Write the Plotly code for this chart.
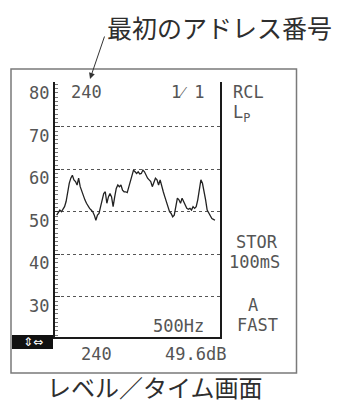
import plotly.graph_objects as go

# Sound level recorded at successive memory addresses (dB)
LEVELS_DB = [
    49.2, 50.0, 50.4, 50.0, 50.6, 51.2, 52.4, 54.7, 56.7, 57.9,
    58.6, 57.5, 57.1, 56.3, 57.9, 55.9, 54.7, 54.0, 52.8, 52.0,
    51.2, 50.8, 50.4, 50.0, 49.2, 48.0, 49.2, 49.6, 51.2, 52.8,
    54.3, 54.7, 52.0, 53.5, 54.3, 53.5, 51.2, 53.5, 55.5, 56.3,
    55.9, 56.3, 55.1, 54.7, 54.7, 54.5, 55.9,
    57.5, 59.0, 59.8, 59.4, 59.0, 59.4, 58.9, 59.0, 59.8, 59.4,
    58.6, 57.9, 57.5, 57.1, 55.9, 56.7, 57.9, 57.5, 56.3, 57.5,
    55.9, 54.7, 53.5, 52.4, 51.2, 50.0, 49.6, 48.8, 49.2, 51.2,
    53.2, 52.8, 52.0, 53.2, 52.4, 51.2, 50.8, 50.6, 50.8, 50.4,
    51.2, 50.8, 51.2, 52.8, 55.9, 57.5, 56.7, 55.1, 52.8, 50.4,
    49.6, 48.8, 48.4, 48.2, 48.0,
]
Y_LABELS = [80, 70, 60, 50, 40, 30]
GRID_LEVELS = [70, 60, 50, 40, 30]
Y_RANGE = [20.6, 80.6]

TITLE_TOP = "最初のアドレス番号"
TITLE_BOTTOM = "レベル／タイム画面"
START_ADDR = "240"
PAGE = "1⁄ 1"
MODE = "RCL"
PARAM = "L<sub>P</sub>"
STORE = "STOR"
INTERVAL = "100mS"
WEIGHT = "A"
SPEED = "FAST"
BAND = "500Hz"
CURSOR_ADDR = "240"
CURSOR_LEVEL = "49.6dB"
ICONS = "⇕⇔"

W, H = 345, 407


def px(x):
    return x / W


def py(y):
    return 1 - y / H


n = len(LEVELS_DB)
xs = list(range(n))
step = (215 - 56.7) / (n - 1)
x_range = [-(56.7 - 55) / step, (n - 1) + (220 - 215) / step]

LCD = "DejaVu Sans Mono"
LCD_COLOR = "#555555"
JP = "Noto Sans CJK JP"
JP_COLOR = "#2e2e2e"

fig = go.Figure()
fig.add_trace(go.Scatter(
    x=xs, y=LEVELS_DB, mode="lines",
    line=dict(color="#222222", width=1.3),
    hoverinfo="skip", showlegend=False,
))

annotations = []


def lcd_text(text, x, y, anchor="left", size=17):
    annotations.append(dict(
        text=text, x=px(x), y=py(y), xref="paper", yref="paper",
        xanchor=anchor, yanchor="middle", showarrow=False,
        font=dict(family=LCD, size=size, color=LCD_COLOR),
    ))


for v in Y_LABELS:
    annotations.append(dict(
        text=str(v), x=px(51), y=v, xref="paper", yref="y",
        xanchor="right", yanchor="middle", yshift=-9, showarrow=False,
        font=dict(family=LCD, size=17, color=LCD_COLOR),
    ))

lcd_text(START_ADDR, 69, 92)
lcd_text(PAGE, 207, 92, anchor="right")
lcd_text(MODE, 231, 92)
lcd_text(PARAM, 231, 113)
lcd_text(STORE, 257, 242, anchor="center")
lcd_text(INTERVAL, 254, 262, anchor="center")
lcd_text(WEIGHT, 253, 305, anchor="center")
lcd_text(SPEED, 257, 325, anchor="center")
lcd_text(BAND, 206, 326, anchor="right")
lcd_text(CURSOR_ADDR, 79, 354)
lcd_text(CURSOR_LEVEL, 163, 354)

annotations.append(dict(
    text=ICONS, x=px(32.5), y=py(342), xref="paper", yref="paper",
    xanchor="center", yanchor="middle", showarrow=False,
    font=dict(family="DejaVu Sans", size=12, color="white"),
))

annotations.append(dict(
    text=TITLE_TOP, x=px(220), y=py(27), xref="paper", yref="paper",
    xanchor="center", yanchor="middle", showarrow=False,
    font=dict(family=JP, size=25, color=JP_COLOR),
))
annotations.append(dict(
    text=TITLE_BOTTOM, x=px(155), y=py(406), xref="paper", yref="paper",
    xanchor="center", yanchor="bottom", showarrow=False,
    font=dict(family=JP, size=24, color=JP_COLOR),
))
# arrow pointing at the first address number
annotations.append(dict(
    text="", x=px(90), y=py(79), xref="paper", yref="paper",
    ax=15, ay=-44, showarrow=True, arrowhead=2, arrowsize=1.2,
    arrowwidth=1, arrowcolor="#333333", standoff=0,
))

shapes = [
    dict(type="rect", xref="paper", yref="paper",
         x0=px(11), x1=px(296.5), y0=py(373), y1=py(69),
         line=dict(color="#7a7a7a", width=1.5)),
    dict(type="rect", xref="paper", yref="paper",
         x0=px(12), x1=px(53), y0=py(349), y1=py(335),
         fillcolor="#111111", line=dict(width=0)),
]

fig.update_layout(
    width=W, height=H, autosize=False,
    margin=dict(l=0, r=0, t=0, b=0),
    paper_bgcolor="white", plot_bgcolor="white",
    annotations=annotations, shapes=shapes,
    xaxis=dict(
        domain=[px(55), px(220)], range=x_range,
        showline=True, linecolor="#1a1a1a", linewidth=2, mirror=False,
        showgrid=False, zeroline=False, showticklabels=False, ticks="",
        fixedrange=True,
    ),
    yaxis=dict(
        domain=[py(336.7), py(81.7)], range=Y_RANGE,
        showline=True, linecolor="#1a1a1a", linewidth=2, mirror=True,
        tickmode="array", tickvals=GRID_LEVELS,
        ticks="inside", ticklen=5, tickcolor="#333333",
        showticklabels=False,
        showgrid=True, gridcolor="#555555", griddash="dot", gridwidth=1,
        zeroline=False, fixedrange=True,
        minor=dict(tickmode="linear", tick0=0, dtick=1, ticks="inside",
                   ticklen=3, tickcolor="#777777", showgrid=False),
    ),
)

fig.write_html("out.html", config={"displayModeBar": False})
